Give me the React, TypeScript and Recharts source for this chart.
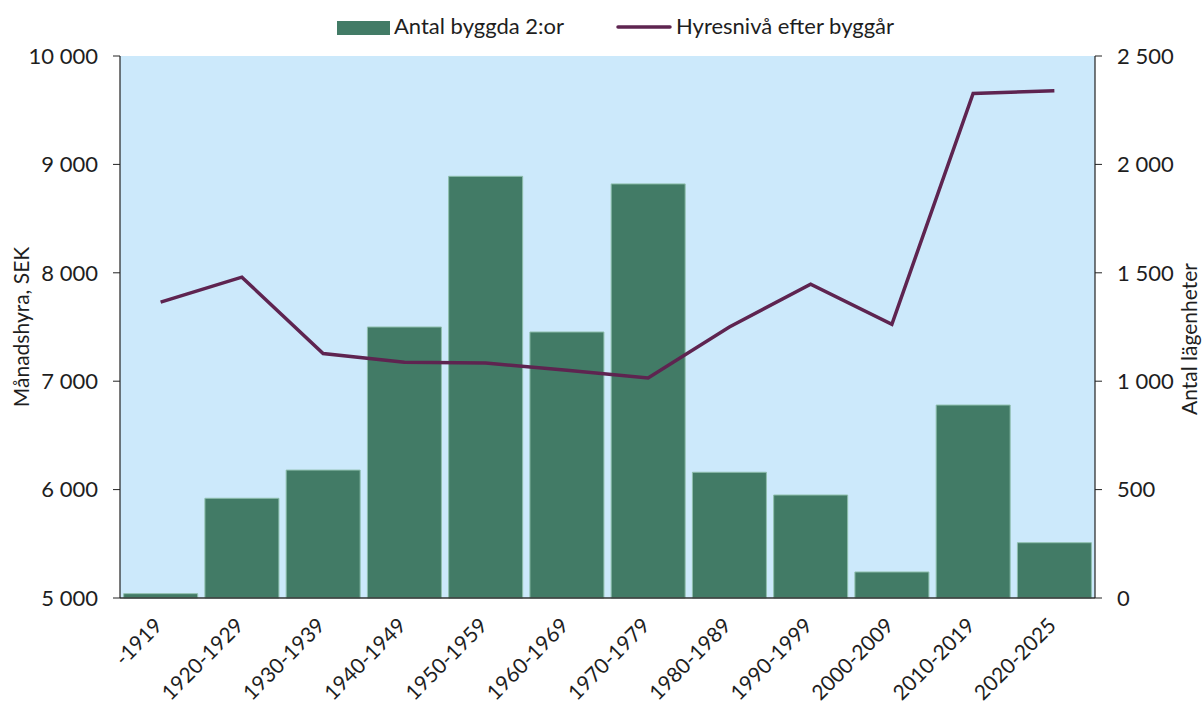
import React from 'react';
import { ComposedChart, Bar, Line, XAxis, YAxis, CartesianGrid, Legend, Label } from 'recharts';

const categories = ['-1919', '1920-1929', '1930-1939', '1940-1949', '1950-1959', '1960-1969', '1970-1979', '1980-1989', '1990-1999', '2000-2009', '2010-2019', '2020-2025'];
const apartments = [20, 460, 590, 1250, 1945, 1227, 1910, 580, 475, 120, 890, 255];
const rent = [7730, 7960, 7255, 7175, 7168, 7100, 7030, 7500, 7895, 7525, 9655, 9680];
const leftTicks = [5000, 6000, 7000, 8000, 9000, 10000];
const rightTicks = [0, 500, 1000, 1500, 2000, 2500];

const barName = 'Antal byggda 2:or';
const lineName = 'Hyresnivå efter byggår';

const data = categories.map((c, i) => ({ category: c, apartments: apartments[i], rent: rent[i] }));

const FONT = 'Lato, "Noto Sans", sans-serif';
const TEXT = '#1e1e1e';
const BAR = '#427b66';
const LINE = '#5e2450';
const BG = '#cce9fb';
const FS = 22;

const fmt = (v: number) => String(v).replace(/\B(?=(\d{3})+(?!\d))/g, ' ');

const XTick = (props: any) => {
  const { x, y, payload } = props;
  const ax = x + 3;
  const ay = y + 29;
  return (
    <text x={ax} y={ay} textAnchor="end" transform={`rotate(-45, ${ax}, ${ay})`} fill={TEXT} fontSize={21} fontFamily={FONT}>
      {payload.value}
    </text>
  );
};

const LegendContent = () => (
  <svg width={1203} height={44} style={{ display: 'block' }}>
    <rect x={337} y={9} width={53} height={14} fill={BAR} />
    <text x={394} y={22} fill={TEXT} fontSize={FS} fontFamily={FONT}>{barName}</text>
    <line x1={618} x2={670} y1={15} y2={15} stroke={LINE} strokeWidth={3.5} strokeLinecap="round" />
    <text x={676} y={22} fill={TEXT} fontSize={FS} fontFamily={FONT}>{lineName}</text>
  </svg>
);

const LeftLabel = (props: any) => {
  const vb = props.viewBox || { x: 0, y: 56, width: 120, height: 542 };
  const cx = 29;
  const cy = vb.y + vb.height / 2;
  return (
    <text x={cx} y={cy} textAnchor="middle" transform={`rotate(-90, ${cx}, ${cy})`} fill={TEXT} fontSize={21} fontFamily={FONT}>
      Månadshyra, SEK
    </text>
  );
};

const RightLabel = (props: any) => {
  const vb = props.viewBox || { x: 1095, y: 56, width: 108, height: 542 };
  const cx = 1197;
  const cy = vb.y + vb.height / 2 + 12;
  return (
    <text x={cx} y={cy} textAnchor="middle" transform={`rotate(-90, ${cx}, ${cy})`} fill={TEXT} fontSize={21} fontFamily={FONT}>
      Antal lägenheter
    </text>
  );
};

export default function App() {
  return (
    <div style={{ position: 'absolute', left: 0, top: 0, width: 1203, height: 706, background: '#fff' }}>
      <ComposedChart width={1203} height={706} data={data} margin={{ top: 12, right: 0, bottom: 0, left: 0 }} barCategoryGap="4.5%">
        <CartesianGrid fill={BG} stroke="none" strokeOpacity={0} />
        <Legend verticalAlign="top" content={<LegendContent />} />
        <XAxis
          dataKey="category"
          interval={0}
          height={108}
          tickLine={false}
          tickSize={0}
          tickMargin={0}
          tick={<XTick />}
          axisLine={{ stroke: '#333', strokeWidth: 1.5 }}
        />
        <YAxis
          yAxisId="left"
          orientation="left"
          width={120}
          domain={[5000, 10000]}
          ticks={leftTicks}
          tickFormatter={fmt}
          tickSize={7}
          tickMargin={15}
          tick={{ fill: TEXT, fontSize: FS, fontFamily: FONT }}
          axisLine={{ stroke: '#222', strokeWidth: 1.2 }}
          tickLine={{ stroke: '#222' }}
          allowDataOverflow
        >
          <Label content={<LeftLabel />} />
        </YAxis>
        <YAxis
          yAxisId="right"
          orientation="right"
          width={108}
          domain={[0, 2500]}
          ticks={rightTicks}
          tickFormatter={fmt}
          tickSize={7}
          tickMargin={15}
          tick={{ fill: TEXT, fontSize: FS, fontFamily: FONT, textAnchor: 'start' }}
          axisLine={{ stroke: '#222', strokeWidth: 1.2 }}
          tickLine={{ stroke: '#222' }}
        >
          <Label content={<RightLabel />} />
        </YAxis>
        <Bar yAxisId="right" dataKey="apartments" name={barName} fill={BAR} stroke="#8fbfad" strokeWidth={1} isAnimationActive={false} />
        <Line yAxisId="left" dataKey="rent" name={lineName} stroke={LINE} strokeWidth={3.5} dot={false} activeDot={false} isAnimationActive={false} />
      </ComposedChart>
    </div>
  );
}
